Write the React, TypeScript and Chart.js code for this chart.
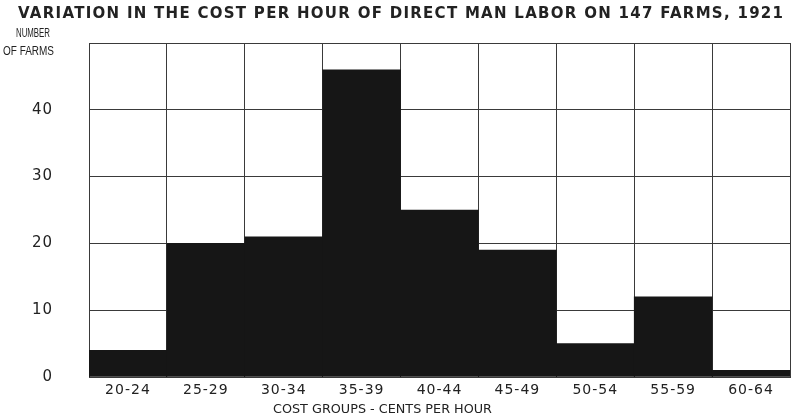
import React, { useEffect, useRef } from "react";
import { Chart, registerables } from "chart.js";

Chart.register(...registerables);

const TITLE = "VARIATION IN THE COST PER HOUR OF DIRECT MAN LABOR ON 147 FARMS, 1921";
const Y_TITLE_LINES = ["NUMBER", "OF FARMS"];
const X_TITLE = "COST GROUPS - CENTS PER HOUR";
const categories = ["20-24", "25-29", "30-34", "35-39", "40-44", "45-49", "50-54", "55-59", "60-64"];
const farms = [4, 20, 21, 46, 25, 19, 5, 12, 1];
const yTicks = [0, 10, 20, 30, 40];

const FONT = '"DejaVu Sans", "Liberation Sans", sans-serif';
const NARROW = '"Liberation Sans", "DejaVu Sans", sans-serif';

function drawSpaced(ctx: CanvasRenderingContext2D, text: string, left: number, right: number, cy: number, font: string) {
  ctx.save();
  ctx.font = font;
  (ctx as any).letterSpacing = "0px";
  const w = ctx.measureText(text).width;
  const target = right - left;
  ctx.textBaseline = "middle";
  ctx.textAlign = "left";
  ctx.fillStyle = "#222";
  if (w > target) {
    const sx = target / w;
    ctx.translate(left, cy);
    ctx.scale(sx, 1);
    ctx.fillText(text, 0, 0);
  } else {
    const sp = (target - w) / (text.length - 1);
    (ctx as any).letterSpacing = sp + "px";
    ctx.fillText(text, left, cy);
  }
  ctx.restore();
}

const textPlugin = {
  id: "texts",
  beforeDraw(chart: any) {
    (chart.ctx as any).letterSpacing = "1px";
  },
  afterDraw(chart: any) {
    const ctx = chart.ctx as CanvasRenderingContext2D;
    (ctx as any).letterSpacing = "0px";
    drawSpaced(ctx, TITLE, 18, 783, 14, `bold 15px ${FONT}`);
    drawSpaced(ctx, Y_TITLE_LINES[0], 16, 50, 34, `12px ${NARROW}`);
    drawSpaced(ctx, Y_TITLE_LINES[1], 3, 54, 52, `12px ${NARROW}`);
    drawSpaced(ctx, X_TITLE, 273, 492, 410, `13px ${FONT}`);
  },
};

export default function App() {
  const ref = useRef<HTMLCanvasElement | null>(null);
  useEffect(() => {
    if (!ref.current) return;
    const chart = new Chart(ref.current, {
      type: "bar",
      data: {
        labels: categories,
        datasets: [
          {
            data: farms,
            backgroundColor: "#161616",
            borderWidth: 0,
            barPercentage: 1,
            categoryPercentage: 1,
          },
        ],
      },
      options: {
        responsive: false,
        animation: false,
        devicePixelRatio: 1,
        layout: { autoPadding: false, padding: { top: 43, right: 1, left: 0, bottom: 0 } },
        plugins: { legend: { display: false }, title: { display: false }, tooltip: { enabled: false } },
        scales: {
          x: {
            grid: { display: true, offset: true, color: "#3a3a3a", lineWidth: 1, drawTicks: false },
            border: { display: true, color: "#3a3a3a" },
            ticks: { color: "#222", font: { family: FONT, size: 14 }, padding: 5, maxRotation: 0, autoSkip: false },
            afterFit: (s: any) => {
              s.height = 41;
              s.paddingLeft = 0;
              s.paddingRight = 0;
            },
          },
          y: {
            min: 0,
            max: 50,
            grid: { color: "#3a3a3a", lineWidth: 1, drawTicks: false },
            border: { display: true, color: "#3a3a3a" },
            afterBuildTicks: (s: any) => {
              s.ticks = [...yTicks, 50].map((v) => ({ value: v }));
            },
            ticks: {
              color: "#222",
              font: { family: FONT, size: 15 },
              padding: 36,
              callback: (v: any) => (yTicks.includes(Number(v)) ? String(v) : ""),
            },
            afterFit: (s: any) => {
              s.width = 89;
              s.paddingTop = 0;
              s.paddingBottom = 0;
            },
          },
        },
      },
      plugins: [textPlugin],
    });
    return () => chart.destroy();
  }, []);
  return (
    <div style={{ position: "absolute", left: 0, top: 0, width: 791, height: 418, background: "#fff" }}>
      <canvas ref={ref} width={791} height={418} style={{ display: "block" }} />
    </div>
  );
}
